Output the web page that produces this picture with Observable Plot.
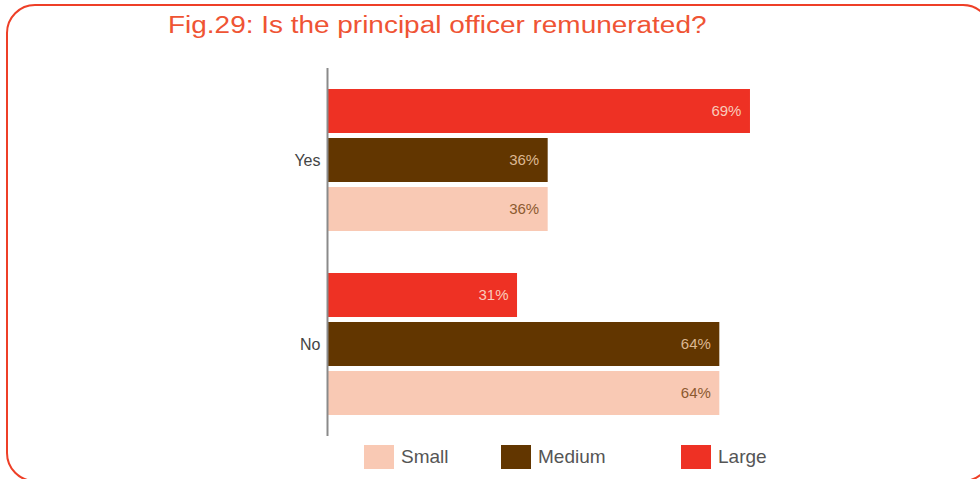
<!DOCTYPE html>
<html>
<head>
<meta charset="utf-8">
<script src="https://cdn.jsdelivr.net/npm/d3@7"></script>
<script src="https://cdn.jsdelivr.net/npm/@observablehq/plot@0.6"></script>
<style>
  html, body { margin: 0; padding: 0; background: #fff; }
  #wrap { position: relative; width: 980px; height: 479px; overflow: hidden; font-family: "Liberation Sans", Arial, sans-serif; }
  #border { position: absolute; left: 6px; top: 4px; width: 986px; height: 478px; border: 2px solid #ee3f27; border-radius: 29px; box-sizing: border-box; }
  #title { position: absolute; left: 168px; top: 14px; font-size: 23px; line-height: 1; color: #ef5434; white-space: nowrap; transform: scaleX(1.215); transform-origin: 0 0; }
  #chart { position: absolute; left: 0; top: 0; }
  .lg { position: absolute; top: 445px; display: flex; align-items: center; }
  .lg .sw { width: 30px; height: 24px; margin-right: 7px; }
  .lg .tx { font-size: 19px; color: #555; }
</style>
</head>
<body>
<div id="wrap">
  <div id="border"></div>
  <div id="title"></div>
  <div id="chart"></div>
  <div id="legend"></div>
</div>
<script>
const titleText = "Fig.29: Is the principal officer remunerated?";
const questions = ["Yes", "No"];
const sizes = ["Large", "Medium", "Small"];
const yesValues = [69, 36, 36];
const noValues = [31, 64, 64];
const sizeColors = ["#ee3124", "#623600", "#f9c9b4"];
const labelColors = ["#f9cbbb", "#dcb892", "#8c5a30"];
const legendOrder = ["Small", "Medium", "Large"];
const legendLeft = [364, 501, 681];

const data = [];
sizes.forEach((s, i) => {
  data.push({question: "Yes", size: s, value: yesValues[i]});
  data.push({question: "No", size: s, value: noValues[i]});
});

document.getElementById("title").textContent = titleText;

const chart = Plot.plot({
  width: 980,
  height: 479,
  marginLeft: 327,
  marginRight: 40,
  marginTop: 68,
  marginBottom: 43,
  style: {fontFamily: "Liberation Sans, Arial, sans-serif", background: "transparent"},
  x: {domain: [0, 100], axis: null},
  y: {domain: sizes, paddingInner: 0.11, paddingOuter: 0.414, axis: null},
  fy: {domain: questions, padding: 0, axis: null},
  color: {domain: sizes, range: sizeColors},
  marks: [
    Plot.barX(data, {x: "value", y: "size", fy: "question", fill: "size"}),
    ...sizes.map((s, i) => Plot.text(data.filter(d => d.size === s), {
      x: "value", y: "size", fy: "question",
      text: d => d.value + "%",
      textAnchor: "end", dx: -9, fontSize: 15, fill: labelColors[i]
    })),
    Plot.text(questions, {fy: d => d, text: d => d, frameAnchor: "left", textAnchor: "end", dx: -7, fontSize: 16, fill: "#444"}),
    Plot.ruleX([0], {stroke: "#8a8a8a", strokeWidth: 2})
  ]
});
document.getElementById("chart").appendChild(chart);

const legend = document.getElementById("legend");
legendOrder.forEach((s, i) => {
  const item = document.createElement("div");
  item.className = "lg";
  item.style.left = legendLeft[i] + "px";
  const sw = document.createElement("div");
  sw.className = "sw";
  sw.style.background = sizeColors[sizes.indexOf(s)];
  const tx = document.createElement("span");
  tx.className = "tx";
  tx.textContent = s;
  item.appendChild(sw);
  item.appendChild(tx);
  legend.appendChild(item);
});
</script>
</body>
</html>
